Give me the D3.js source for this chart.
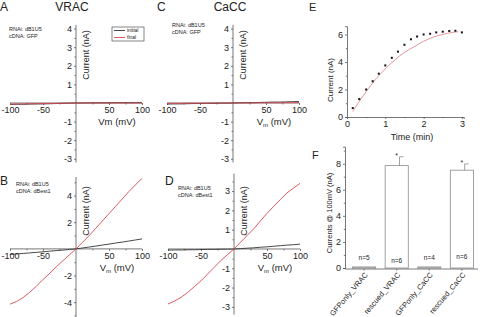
<!DOCTYPE html>
<html><head><meta charset="utf-8">
<script src="https://cdn.jsdelivr.net/npm/d3@7/dist/d3.min.js"></script>
<style>body{margin:0;background:#fff}svg{display:block}</style>
</head><body>
<svg id="c" width="480" height="317"></svg>
<script>
// ---- data ----
const voltages = [-100,-90,-80,-70,-60,-50,-40,-30,-20,-10,0,10,20,30,40,50,60,70,80,90,100];
const A_initial = [-0.08,-0.07,-0.07,-0.06,-0.05,-0.05,-0.04,-0.03,-0.02,-0.01,0,0,0.01,0.01,0.01,0.01,0.02,0.02,0.02,0.02,0.02];
const A_final   = [-0.06,-0.05,-0.05,-0.04,-0.04,-0.03,-0.03,-0.02,-0.01,-0.01,0,0,0,0,0,0,0,0,0,0,0];
const B_initial = [-0.42,-0.38,-0.34,-0.3,-0.26,-0.22,-0.17,-0.13,-0.09,-0.04,0,0.07,0.14,0.21,0.29,0.36,0.44,0.51,0.59,0.67,0.75];
const B_final   = [-4.15,-3.95,-3.65,-3.25,-2.8,-2.3,-1.85,-1.35,-0.9,-0.45,0,0.5,1.0,1.55,2.1,2.65,3.2,3.75,4.3,4.8,5.3];
const C_initial = [-0.06,-0.05,-0.05,-0.04,-0.03,-0.03,-0.02,-0.02,-0.01,-0.01,0,0.01,0.02,0.02,0.03,0.04,0.05,0.05,0.06,0.07,0.08];
const C_final   = [-0.02,-0.02,-0.02,-0.01,-0.01,-0.01,-0.01,0,0,0,0,0,0,0,0.01,0.01,0.01,0.01,0.02,0.02,0.02];
const D_initial = [-0.06,-0.05,-0.05,-0.04,-0.04,-0.03,-0.02,-0.02,-0.01,-0.01,0,0.02,0.04,0.06,0.09,0.11,0.14,0.17,0.2,0.22,0.25];
const D_final   = [-2.85,-2.7,-2.5,-2.25,-1.95,-1.65,-1.3,-0.95,-0.6,-0.3,0,0.35,0.7,1.05,1.45,1.85,2.2,2.55,2.9,3.15,3.4];

const E_times    = [0.15,0.32,0.5,0.67,0.83,1.0,1.17,1.33,1.5,1.67,1.83,2.0,2.17,2.33,2.5,2.67,2.83,3.0];
const E_currents = [0.65,1.3,2.0,2.6,3.15,3.75,4.3,4.75,5.25,5.65,5.85,6.0,6.05,6.15,6.2,6.25,6.27,6.15];
const E_fitTimes    = [0.15,0.3,0.5,0.75,1.0,1.25,1.5,1.75,2.0,2.25,2.5,2.75,2.9];
const E_fitCurrents = [0.4,1.05,1.85,2.75,3.5,4.15,4.7,5.1,5.5,5.8,6.0,6.15,6.2];

const F_categories = ["GFPonly_VRAC","rescued_VRAC","GFPonly_CaCC","rescued_CaCC"];
const F_values = [0.08,7.85,0.08,7.5];
const F_errors = [0,0.68,0,0.48];
const F_nLabels = ["n=5","n=6","n=4","n=6"];
const F_stars = ["","*","","*"];

const ivTicksA = [-3,-2,-1,1,2,3,4];
const ivTicksB = [-4,-2,2,4];
const ivTicksD = [-3,-2,-1,1,2,3];
const vTicks = [-100,-50,50,100];

// ---- drawing ----
const FONT = "'Liberation Sans', Arial, sans-serif";
const svg = d3.select("#c").style("font-family", FONT);
const AX = "#555", TXT = "#222", RED = "#d9484f", BLK = "#333";
const fmt = d => String(d);

function styleAxis(g){
  g.selectAll("path,line").attr("stroke", AX).attr("stroke-width", 0.8);
  g.selectAll("text").attr("fill", TXT).style("font-family", FONT);
}

function ivPanel(cfg){
  const x = d3.scaleLinear().domain([-100,100]).range(cfg.xr);
  const y = d3.scaleLinear().domain(cfg.yd).range(cfg.yr);
  const g = svg.append("g");
  const xa = g.append("g").attr("transform", `translate(0,${y(0)})`)
    .call(d3.axisBottom(x).tickValues(vTicks).tickSize(2).tickPadding(2).tickFormat(fmt));
  xa.select(".domain").attr("d", `M${x(-100)},0H${x(100)}`);
  xa.selectAll("text").attr("font-size", 9);
  styleAxis(xa);
  const xm = g.append("g").attr("transform", `translate(0,${y(0)})`)
    .call(d3.axisBottom(x).tickValues([-75,-25,25,75]).tickSize(1.5).tickFormat(""));
  xm.select(".domain").remove(); styleAxis(xm);
  const ya = g.append("g").attr("transform", `translate(${x(0)},0)`)
    .call(d3.axisLeft(y).tickValues(cfg.yt).tickSize(2).tickPadding(2).tickFormat(fmt));
  ya.select(".domain").attr("d", `M0,${cfg.yr[0]}V${cfg.yr[1]}`);
  ya.selectAll("text").attr("font-size", 9);
  styleAxis(ya);
  const ym = g.append("g").attr("transform", `translate(${x(0)},0)`)
    .call(d3.axisLeft(y).tickValues(cfg.ymt).tickSize(1.5).tickFormat(""));
  ym.select(".domain").remove(); styleAxis(ym);
  const line = d3.line().x((d,i)=>x(voltages[i])).y(d=>y(d));
  g.append("path").datum(cfg.init).attr("d", line).attr("fill","none").attr("stroke",BLK).attr("stroke-width",0.9);
  g.append("path").datum(cfg.fin).attr("d", line).attr("fill","none").attr("stroke",RED).attr("stroke-width",0.9);
  const xl = g.append("text").attr("x", x(0)+41).attr("y", y(0)+22).attr("text-anchor","middle")
    .attr("font-size", 9.5).attr("fill", TXT);
  if (cfg.sub){
    xl.append("tspan").text("V");
    xl.append("tspan").attr("font-size",6).attr("dy",2).text("m");
    xl.append("tspan").attr("dy",-2).text(" (mV)");
  } else xl.text("Vm (mV)");
  g.append("text").attr("transform", `translate(${x(0)+13},${cfg.ylc}) rotate(-90)`)
    .attr("text-anchor","middle").attr("font-size",9).attr("fill",TXT).text("Current (nA)");
  g.append("text").attr("x", cfg.ax).attr("y", cfg.ay).attr("font-size",5.5).attr("fill",TXT).text("RNAi: dB1U5");
  g.append("text").attr("x", cfg.ax).attr("y", cfg.ay+7).attr("font-size",5.5).attr("fill",TXT).text(cfg.cdna);
  g.append("text").attr("x", cfg.lx).attr("y", cfg.ly).attr("font-size",12).attr("fill",TXT).text(cfg.letter);
  return {x,y,g};
}

ivPanel({xr:[10,142], yd:[-3.2,4.2], yr:[162.5,24.9], yt:ivTicksA, ymt:[-2.5,-1.5,-0.5,0.5,1.5,2.5,3.5],
  init:A_initial, fin:A_final, sub:false, ylc:55, ax:9, ay:31, cdna:"cDNA: GFP", letter:"A", lx:0, ly:11});
ivPanel({xr:[10,142], yd:[-5.1,5.4], yr:[316.8,177], yt:ivTicksB, ymt:[-5,-3,-1,1,3,5],
  init:B_initial, fin:B_final, sub:true, ylc:211, ax:16, ay:186, cdna:"cDNA: dBest1", letter:"B", lx:0, ly:185});
ivPanel({xr:[167,299], yd:[-3.2,4.2], yr:[162.5,24.9], yt:ivTicksA, ymt:[-2.5,-1.5,-0.5,0.5,1.5,2.5,3.5],
  init:C_initial, fin:C_final, sub:true, ylc:55, ax:172, ay:27, cdna:"cDNA: GFP", letter:"C", lx:157, ly:11});
ivPanel({xr:[168,300], yd:[-3.4,3.9], yr:[314.6,173.7], yt:ivTicksD, ymt:[-2.5,-1.5,-0.5,0.5,1.5,2.5,3.5],
  init:D_initial, fin:D_final, sub:true, ylc:211, ax:178, ay:190, cdna:"cDNA: dBest1", letter:"D", lx:165, ly:185});

svg.append("text").attr("x",72).attr("y",11).attr("text-anchor","middle").attr("font-size",12).attr("fill",TXT).text("VRAC");
svg.append("text").attr("x",230).attr("y",11).attr("text-anchor","middle").attr("font-size",12).attr("fill",TXT).text("CaCC");

const lg = svg.append("g");
lg.append("rect").attr("x",112).attr("y",27).attr("width",32).attr("height",14).attr("fill","#fff").attr("stroke",AX).attr("stroke-width",0.7);
lg.append("line").attr("x1",114).attr("x2",125).attr("y1",30.5).attr("y2",30.5).attr("stroke",BLK).attr("stroke-width",0.9);
lg.append("line").attr("x1",114).attr("x2",125).attr("y1",37.5).attr("y2",37.5).attr("stroke",RED).attr("stroke-width",0.9);
lg.append("text").attr("x",127).attr("y",32.3).attr("font-size",5).attr("fill",TXT).text("initial");
lg.append("text").attr("x",127).attr("y",39.3).attr("font-size",5).attr("fill",TXT).text("final");

// ---- panel E ----
{
  const x = d3.scaleLinear().domain([0,3.05]).range([347,463.8]);
  const y = d3.scaleLinear().domain([0,6.6]).range([117,26.2]);
  const g = svg.append("g");
  const xa = g.append("g").attr("transform",`translate(0,${y(0)})`)
    .call(d3.axisBottom(x).tickValues([0,1,2,3]).tickSize(2).tickPadding(1.5).tickFormat(fmt));
  xa.selectAll("text").attr("font-size",9); styleAxis(xa);
  const xm = g.append("g").attr("transform",`translate(0,${y(0)})`)
    .call(d3.axisBottom(x).tickValues([0.5,1.5,2.5]).tickSize(1.2).tickFormat(""));
  xm.select(".domain").remove(); styleAxis(xm);
  const ya = g.append("g").attr("transform",`translate(${x(0)},0)`)
    .call(d3.axisLeft(y).tickValues([0,2,4,6]).tickSize(2).tickPadding(2).tickFormat(fmt));
  ya.selectAll("text").attr("font-size",9); styleAxis(ya);
  const ym = g.append("g").attr("transform",`translate(${x(0)},0)`)
    .call(d3.axisLeft(y).tickValues([1,3,5]).tickSize(1.2).tickFormat(""));
  ym.select(".domain").remove(); styleAxis(ym);
  g.append("path").datum(E_fitTimes.map((t,i)=>[t,E_fitCurrents[i]]))
    .attr("d", d3.line().x(d=>x(d[0])).y(d=>y(d[1])).curve(d3.curveMonotoneX))
    .attr("fill","none").attr("stroke","#e08a90").attr("stroke-width",0.9);
  g.selectAll("rect.pt").data(E_times).join("rect").attr("class","pt")
    .attr("x",(d)=>x(d)-1).attr("y",(d,i)=>y(E_currents[i])-1).attr("width",2).attr("height",2).attr("fill","#111");
  g.append("text").attr("x",412).attr("y",140).attr("text-anchor","middle").attr("font-size",9).attr("fill",TXT).text("Time (min)");
  g.append("text").attr("transform","translate(333,80) rotate(-90)").attr("text-anchor","middle").attr("font-size",8).attr("fill",TXT).text("Current (nA)");
  g.append("text").attr("x",309).attr("y",11).attr("font-size",11).attr("fill",TXT).text("E");
}

// ---- panel F ----
{
  const x = d3.scaleBand().domain(F_categories).range([348,478]).paddingInner(0.29).paddingOuter(0.14);
  const y = d3.scaleLinear().domain([0,9.3]).range([268,146.7]);
  const g = svg.append("g");
  g.selectAll("rect.bar").data(F_values).join("rect").attr("class","bar")
    .attr("x",(d,i)=>x(F_categories[i])).attr("width",x.bandwidth())
    .attr("y",d=>y(d)).attr("height",d=>y(0)-y(d))
    .attr("fill","#fff").attr("stroke","#8a8a8a").attr("stroke-width",0.8);
  F_values.forEach((v,i)=>{
    if (!F_errors[i]) return;
    const cx = x(F_categories[i]) + x.bandwidth()*0.62;
    g.append("line").attr("x1",cx).attr("x2",cx).attr("y1",y(v)).attr("y2",y(v+F_errors[i])).attr("stroke","#8a8a8a").attr("stroke-width",0.8);
    g.append("line").attr("x1",cx).attr("x2",cx+4).attr("y1",y(v+F_errors[i])).attr("y2",y(v+F_errors[i])).attr("stroke","#8a8a8a").attr("stroke-width",0.8);
    g.append("text").attr("x",x(F_categories[i])+x.bandwidth()/2).attr("y",y(v+F_errors[i])+1).attr("text-anchor","middle")
      .attr("font-size",7).attr("fill",TXT).text(F_stars[i]);
  });
  F_nLabels.forEach((t,i)=>{
    g.append("text").attr("x",x(F_categories[i])+x.bandwidth()/2).attr("y",[260,262.5,260,259][i])
      .attr("text-anchor","middle").attr("font-size",6.5).attr("fill",TXT).text(t);
  });
  const ya = g.append("g").attr("transform","translate(345,0)")
    .call(d3.axisLeft(y).tickValues([0,2,4,6,8]).tickSize(2).tickPadding(2).tickFormat(fmt));
  ya.selectAll("text").attr("font-size",9); styleAxis(ya);
  const ym = g.append("g").attr("transform","translate(345,0)")
    .call(d3.axisLeft(y).tickValues([1,3,5,7,9]).tickSize(1.2).tickFormat(""));
  ym.select(".domain").remove(); styleAxis(ym);
  const xa = g.append("g").attr("transform",`translate(0,${y(0)+1})`)
    .call(d3.axisBottom(x).tickSize(1.5).tickFormat(""));
  xa.select(".domain").attr("d","M345,0H478");
  styleAxis(xa);
  F_categories.forEach((c,i)=>{
    const cx = x(c)+x.bandwidth()/2+4;
    g.append("text").attr("transform",`translate(${cx},${y(0)+7}) rotate(-50)`).attr("text-anchor","end")
      .attr("font-size",7.5).attr("fill",TXT).text(c);
  });
  g.append("text").attr("transform","translate(332,213) rotate(-90)").attr("text-anchor","middle").attr("font-size",7.5).attr("fill",TXT).text("Currents @ 100mV (nA)");
  g.append("text").attr("x",312).attr("y",159).attr("font-size",11).attr("fill",TXT).text("F");
}
</script>
</body></html>
